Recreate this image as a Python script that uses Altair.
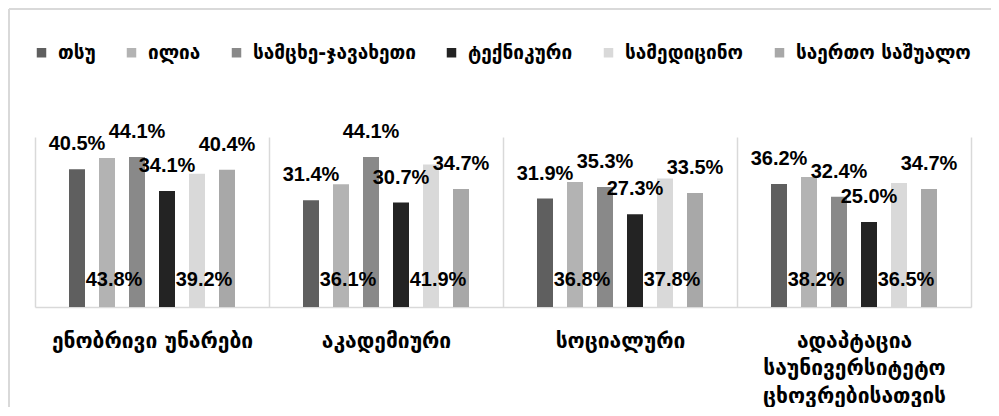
import altair as alt
import pandas as pd

categories = ["ენობრივი უნარები", "აკადემიური", "სოციალური",
              "ადაპტაცია საუნივერსიტეტო ცხოვრებისათვის"]
series = ["თსუ", "ილია", "სამცხე-ჯავახეთი", "ტექნიკური", "სამედიცინო", "საერთო საშუალო"]

tsu = [40.5, 31.4, 31.9, 36.2]
ilia = [43.8, 36.1, 36.8, 38.2]
samtskhe = [44.1, 44.1, 35.3, 32.4]
teqnikuri = [34.1, 30.7, 27.3, 25.0]
samedicino = [39.2, 41.9, 37.8, 36.5]
saerto = [40.4, 34.7, 33.5, 34.7]

colors = ["#5f5f5f", "#b3b3b3", "#898989", "#232323", "#d9d9d9", "#a8a8a8"]
base_labelled = ["ილია", "სამედიცინო"]

all_vals = [tsu, ilia, samtskhe, teqnikuri, samedicino, saerto]
rows = []
for s, vals in zip(series, all_vals):
    for c, v in zip(categories, vals):
        rows.append({"cat": c, "series": s, "value": v,
                     "label": f"{v:.1f}%", "atbase": s in base_labelled})
df = pd.DataFrame(rows)

VAL_FONT = "Liberation Sans Narrow, Liberation Sans, Arial"
GEO_FONT = "DejaVu Sans"

x_enc = alt.X("cat:N", sort=categories,
              scale=alt.Scale(paddingInner=0, paddingOuter=0),
              axis=alt.Axis(title=None, tickBand="extent", grid=True,
                            gridColor="#d9d9d9", gridWidth=1.5,
                            domainColor="#d9d9d9", domainWidth=1.5,
                            ticks=False, labelAngle=0, labelFont=GEO_FONT,
                            labelFontSize=21, labelFontWeight="bold", labelColor="black",
                            labelPadding=23, labelLineHeight=27.5, labelLimit=0,
                            labelExpr="length(datum.label) > 20 ? split(datum.label, ' ') : datum.label"))
xo_enc = alt.XOffset("series:N", sort=series,
                     scale=alt.Scale(paddingInner=0.2, paddingOuter=1))
y_scale = alt.Scale(domain=[0, 50])

base = alt.Chart(df).encode(x=x_enc, xOffset=xo_enc)

bars = base.mark_bar(width=16).encode(
    y=alt.Y("value:Q", scale=y_scale, axis=None),
    color=alt.Color("series:N", sort=series,
                    scale=alt.Scale(domain=series, range=colors),
                    legend=alt.Legend(title=None, orient="none", direction="horizontal",
                                      legendX=-3, legendY=-94,
                                      symbolType="square", symbolSize=90,
                                      symbolStrokeWidth=0, labelFont=GEO_FONT,
                                      labelFontSize=19, labelFontWeight="bold",
                                      labelColor="black",
                                      labelOffset=7, columnPadding=26, labelLimit=0)),
)

top_labels = base.mark_text(baseline="bottom", dy=-15, font=VAL_FONT,
                            fontSize=20, fontWeight="bold", color="black").encode(
    y=alt.Y("value:Q", scale=y_scale), text="label:N"
).transform_filter(alt.datum.atbase == False)

bottom_labels = base.mark_text(baseline="bottom", dy=-17, dx=7, font=VAL_FONT,
                               fontSize=20, fontWeight="bold", color="black").encode(
    y=alt.datum(0), text="label:N"
).transform_filter(alt.datum.atbase == True)

frame_df = pd.DataFrame({"k": [0]})
left_border = alt.Chart(frame_df).mark_rule(color="#d9d9d9", strokeWidth=2).encode(
    x=alt.value(-26), y=alt.value(-128), y2=alt.value(300))
top_border = alt.Chart(frame_df).mark_rule(color="#d9d9d9", strokeWidth=2).encode(
    y=alt.value(-128), x=alt.value(-26), x2=alt.value(960))

chart = alt.layer(left_border, top_border, bars, top_labels, bottom_labels).properties(
    width=936, height=170,
    autosize=alt.AutoSizeParams(type="none"),
    padding={"left": 27, "top": 129, "right": 20, "bottom": 100},
).configure_view(stroke=None).resolve_scale(y="shared")

chart.save("out.html", embed_options={"renderer": "svg", "actions": False})
